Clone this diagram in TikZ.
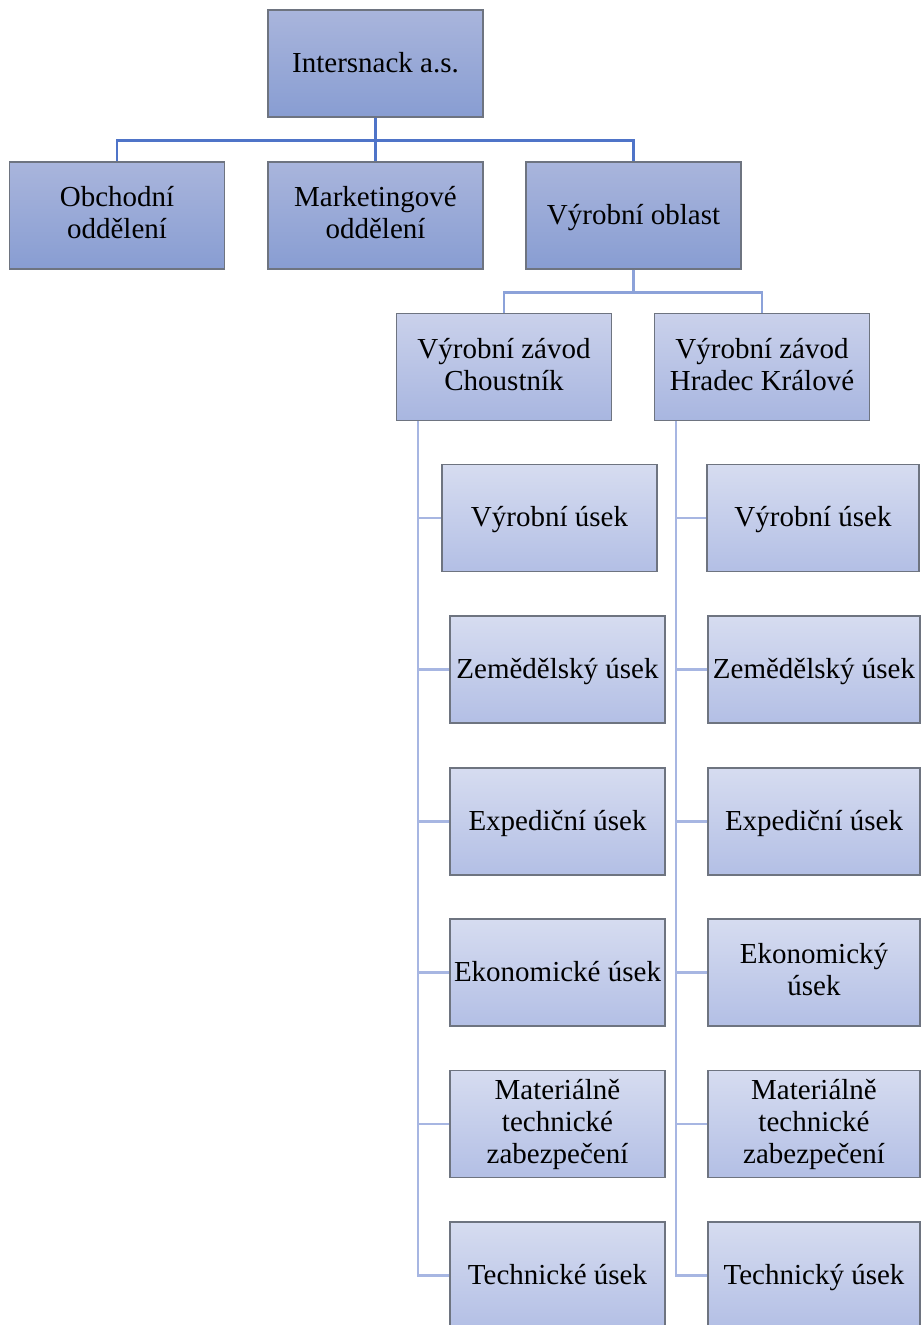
\documentclass[tikz,border=0pt]{standalone}
\usepackage{fontspec}
\setmainfont{Liberation Serif}
\usetikzlibrary{calc}
\usepackage{xcolor}

\definecolor{boxline}{HTML}{6E7480}
\definecolor{topA}{HTML}{A9B5DC}
\definecolor{botA}{HTML}{889DD2}
\definecolor{topB}{HTML}{CAD1EB}
\definecolor{botB}{HTML}{A8B6E0}
\definecolor{topC}{HTML}{D6DCF0}
\definecolor{botC}{HTML}{B3BFE5}
\definecolor{lineA}{HTML}{4F74C8}
\definecolor{lineB}{HTML}{8CA2D9}
\definecolor{lineC}{HTML}{A7B6E2}

\newcommand{\boxstrut}{\rule[-3pt]{0pt}{15pt}}

\begin{document}
\begin{tikzpicture}[x=0.5pt, y=-0.5pt]
        % ================= 样式定义 =================
        \tikzset{
            % 方框:按层级渐变变浅
            unit/.style={rectangle, draw=boxline, line width=0.6pt, minimum width=107.5pt, minimum height=53.5pt,
                inner sep=0pt, align=center, font=\fontsize{14.5}{16}\selectfont,
                execute at begin node=\boxstrut, execute at end node=\boxstrut},
            unitA/.style={unit, top color=topA, bottom color=botA},
            unitB/.style={unit, top color=topB, bottom color=botB},
            unitC/.style={unit, top color=topC, bottom color=botC},
            linkA/.style={line width=1.1pt, lineA},
            linkB/.style={line width=1.1pt, lineB},
            linkC/.style={line width=1.3pt, lineC}
        }
        \useasboundingbox (0,0) rectangle (922,1325);

        % ================= 上层:公司与部门 =================
        \node[unitA] (root) at (375.5,63.5)  {Intersnack a.s.};
        \node[unitA] (obch) at (117,215.5)   {Obchodní\\ oddělení};
        \node[unitA] (mark) at (375.5,215.5) {Marketingové\\ oddělení};
        \node[unitA] (vyr)  at (633.5,215.5) {Výrobní oblast};

        \draw[linkA] (root.south) -- ++(0,23) -| (obch.north);
        \draw[linkA] (root.south) -- (mark.north);
        \draw[linkA] (root.south) -- ++(0,23) -| (vyr.north);

        % ================= 中层:两个工厂 =================
        \node[unitB] (zch) at (504,367) {Výrobní závod\\ Choustník};
        \node[unitB] (zhk) at (762,367) {Výrobní závod\\ Hradec Králové};

        \draw[linkB] (vyr.south) -- ++(0,23) -| (zch.north);
        \draw[linkB] (vyr.south) -- ++(0,23) -| (zhk.north);

        % ================= 下层:各工厂的部门 =================
        % 1. 左列 (Choustník)
        \foreach \i/\cx/\cy/\txt in {1/549.5/518/{Výrobní úsek}, 2/557.5/669.5/{Zemědělský úsek},
            3/557.5/821.5/{Expediční úsek}, 4/557.5/972.5/{Ekonomické úsek},
            5/557.5/1124/{Materiálně\\ technické\\ zabezpečení}, 6/557.5/1275.5/{Technické úsek}} {
            \node[unitC] (ch\i) at (\cx,\cy) {\txt};
            \draw[linkC] (zch.south west) ++(22,0) |- (ch\i.west);
        }

        % 2. 右列 (Hradec Králové)
        \foreach \i/\cx/\cy/\txt in {1/813/518/{Výrobní úsek}, 2/814/669.5/{Zemědělský úsek},
            3/814/821.5/{Expediční úsek}, 4/814/972.5/{Ekonomický\\ úsek},
            5/814/1124/{Materiálně\\ technické\\ zabezpečení}, 6/814/1275.5/{Technický úsek}} {
            \node[unitC, minimum width=106pt] (hk\i) at (\cx,\cy) {\txt};
            \draw[linkC] (zhk.south west) ++(22,0) |- (hk\i.west);
        }

\end{tikzpicture}
\end{document}
